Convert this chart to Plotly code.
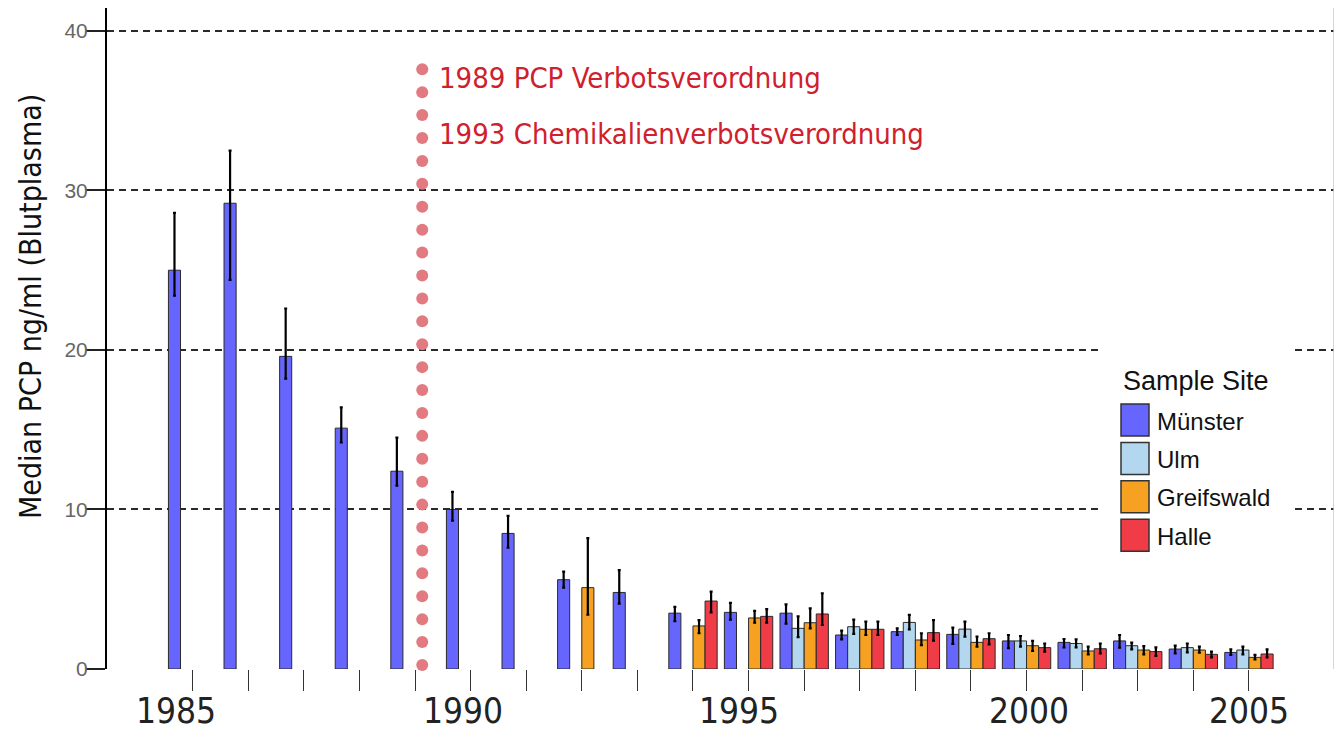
import numpy as np
import plotly.graph_objects as go

# ---------------- data ----------------
years = list(range(1985, 2005))
sites = ["Münster", "Ulm", "Greifswald", "Halle"]
site_colors = ["#6666ff", "#b4d7f0", "#f7a122", "#f03c46"]

muenster_median = [25.0, 29.2, 19.6, 15.1, 12.4, 10.0, 8.5, 5.6, 4.8, 3.5,
                   3.55, 3.5, 2.13, 2.34, 2.17, 1.76, 1.67, 1.76, 1.25, 1.04]
muenster_upper = [28.6, 32.5, 22.6, 16.4, 14.5, 11.1, 9.6, 6.1, 6.2, 3.9,
                  4.15, 4.05, 2.4, 2.55, 2.6, 2.13, 1.88, 2.13, 1.46, 1.23]
muenster_lower = [23.4, 24.4, 18.2, 14.2, 11.5, 9.3, 7.6, 5.1, 4.1, 3.0,
                  3.1, 2.85, 1.86, 2.13, 1.57, 1.3, 1.36, 1.34, 0.98, 0.88]

ulm_median = [None] * 11 + [2.55, 2.65, 2.92, 2.5, 1.76, 1.6, 1.46, 1.34, 1.19]
ulm_upper = [None] * 11 + [3.3, 3.1, 3.39, 2.97, 2.07, 1.86, 1.65, 1.6, 1.4]
ulm_lower = [None] * 11 + [2.0, 2.2, 2.49, 2.03, 1.4, 1.36, 1.23, 1.04, 0.92]

greifswald_median = [None] * 7 + [5.1, None, 2.7, 3.2, 2.9, 2.49, 1.82, 1.67, 1.46, 1.13, 1.19, 1.19, 0.73]
greifswald_upper = [None] * 7 + [8.2, None, 3.07, 3.64, 3.8, 2.97, 2.24, 2.03, 1.76, 1.4, 1.44, 1.4, 0.88]
greifswald_lower = [None] * 7 + [3.4, None, 2.24, 2.9, 2.55, 2.13, 1.5, 1.4, 1.13, 0.92, 0.92, 1.02, 0.6]

halle_median = [None] * 9 + [4.26, 3.3, 3.45, 2.49, 2.28, 1.9, 1.34, 1.27, 1.09, 0.92, 0.94]
halle_upper = [None] * 9 + [4.85, 3.76, 4.75, 2.97, 3.07, 2.24, 1.6, 1.6, 1.36, 1.09, 1.23]
halle_lower = [None] * 9 + [3.55, 2.9, 2.76, 2.13, 1.78, 1.55, 1.09, 0.98, 0.82, 0.73, 0.73]

year_labels = ["1985", "1990", "1995", "2000", "2005"]
year_label_pos = [1984.70, 1989.86, 1994.83, 2000.04, 2004.01]

event_year = 1989.13
event_texts = ["1989 PCP Verbotsverordnung", "1993 Chemikalienverbotsverordnung"]
y_title = "Median PCP ng/ml (Blutplasma)"
legend_title = "Sample Site"

series = [
    (muenster_median, muenster_upper, muenster_lower),
    (ulm_median, ulm_upper, ulm_lower),
    (greifswald_median, greifswald_upper, greifswald_lower),
    (halle_median, halle_upper, halle_lower),
]

# ---------------- layout helpers ----------------
# the page body has an 8px margin, so the figure starts at (8, 8) on screen
W, H = 1334, 728
ML, MR, MT, MB = 99, 8, 0, 67
PLOT_LEFT, PLOT_BOTTOM = 107, 669      # screen pixels
PW, PH = W - ML - MR, H - MT - MB


def pxx(x):
    return (x - PLOT_LEFT) / PW


def pxy(y):
    return (PLOT_BOTTOM - y) / PH


NARROW = "Liberation Sans Narrow, DejaVu Sans Condensed, Arial Narrow, sans-serif"
SANS = "Liberation Sans, Arial, Helvetica, sans-serif"

fig = go.Figure()

for name, color, (med, up, lo) in zip(sites, site_colors, series):
    plus = [None if m is None else u - m for m, u in zip(med, up)]
    minus = [None if m is None else m - l for m, l in zip(med, lo)]
    fig.add_trace(go.Bar(
        x=years, y=med, name=name,
        marker=dict(color=color, line=dict(color="#2a2a2a", width=1)),
        error_y=dict(type="data", symmetric=False, array=plus, arrayminus=minus,
                     color="black", thickness=2.2, width=1.5),
        showlegend=False,
    ))

# dotted event line (decoration)
dot_y = np.linspace(0.25, 37.6, 27)
fig.add_trace(go.Scatter(
    x=[event_year] * len(dot_y), y=dot_y, mode="markers",
    marker=dict(size=12, color="#e27a82"), showlegend=False, hoverinfo="skip",
    cliponaxis=False,
))

annotations = []
for t, yy in zip(event_texts, [78, 134]):
    annotations.append(dict(
        text=t, xref="paper", yref="paper", x=pxx(437), y=pxy(yy),
        xanchor="left", yanchor="middle", showarrow=False,
        font=dict(family=NARROW, size=29, color="#d0202e"),
    ))

for lab, pos in zip(year_labels, year_label_pos):
    annotations.append(dict(
        text=lab, xref="x", yref="paper", x=pos, y=pxy(711),
        xanchor="center", yanchor="middle", showarrow=False,
        font=dict(family=NARROW, size=35, color="#222222"),
    ))

annotations.append(dict(
    text=y_title, xref="paper", yref="paper", x=pxx(30), y=pxy(307),
    xanchor="center", yanchor="middle", textangle=-90, showarrow=False,
    font=dict(family=NARROW, size=30, color="#111111"),
))

# custom legend
shapes = [
    dict(type="rect", xref="paper", yref="paper", x0=pxx(1100), x1=pxx(1292),
         y0=pxy(346), y1=pxy(562), fillcolor="white", line=dict(width=0), layer="above"),
]
annotations.append(dict(
    text=legend_title, xref="paper", yref="paper", x=pxx(1121), y=pxy(381),
    xanchor="left", yanchor="middle", showarrow=False,
    font=dict(family=SANS, size=27, color="#111111"),
))
for i, (name, color) in enumerate(zip(sites, site_colors)):
    top = 404 + 38.4 * i
    shapes.append(dict(type="rect", xref="paper", yref="paper",
                       x0=pxx(1121), x1=pxx(1149), y0=pxy(top + 32), y1=pxy(top),
                       fillcolor=color, line=dict(color="#333333", width=1.5), layer="above"))
    annotations.append(dict(
        text=name, xref="paper", yref="paper", x=pxx(1155), y=pxy(top + 17),
        xanchor="left", yanchor="middle", showarrow=False,
        font=dict(family=SANS, size=24, color="#111111"),
    ))

# right border
shapes.append(dict(type="line", xref="paper", yref="paper", x0=1, x1=1, y0=0, y1=1,
                   line=dict(color="#c8c8c8", width=1.5)))

fig.update_layout(
    width=W, height=H,
    margin=dict(l=ML, r=MR, t=MT, b=MB, pad=0),
    paper_bgcolor="white", plot_bgcolor="white",
    barmode="group", bargap=0.13, bargroupgap=0,
    showlegend=False,
    annotations=annotations, shapes=shapes,
    xaxis=dict(
        range=[1983.46, 2005.53], tickvals=years, showticklabels=False,
        ticks="outside", ticklen=21, tickwidth=1.3, tickcolor="#333333",
        showgrid=False, zeroline=False, showline=False,
    ),
    yaxis=dict(
        range=[0, 41.44], tickvals=[0, 10, 20, 30, 40],
        ticks="outside", ticklen=19, tickwidth=1.5, tickcolor="#222222",
        tickfont=dict(family=SANS, size=21, color="#666666"),
        ticklabelstandoff=-6,
        showline=True, linecolor="black", linewidth=2,
        showgrid=True, gridcolor="#2a2a2a", gridwidth=1.6, griddash="7px,5px",
        zeroline=False,
    ),
)

fig.write_html("out.html")
